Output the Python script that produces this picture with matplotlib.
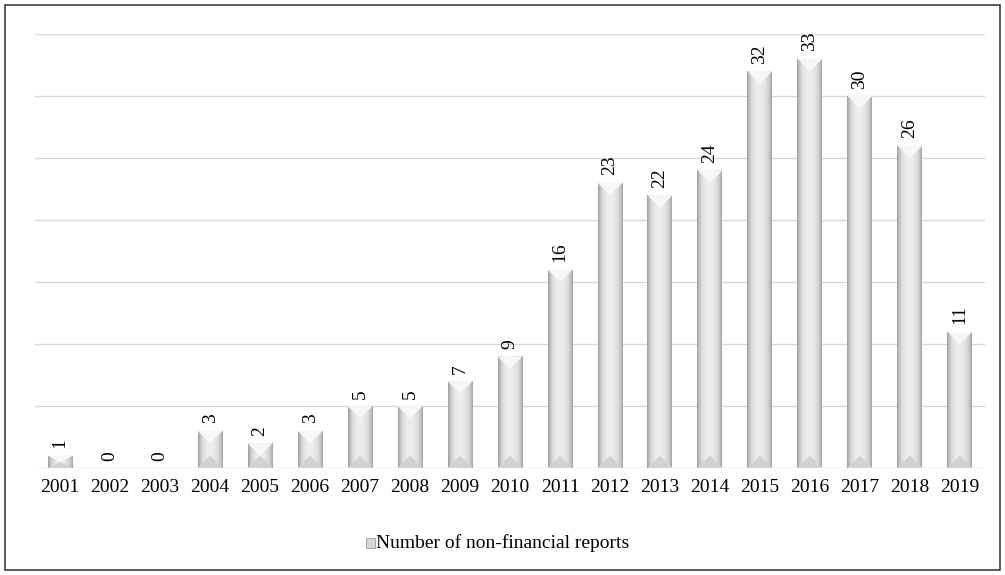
import numpy as np
import matplotlib.pyplot as plt
from matplotlib.patches import Polygon, Rectangle

years = ['2001', '2002', '2003', '2004', '2005', '2006', '2007', '2008', '2009', '2010',
         '2011', '2012', '2013', '2014', '2015', '2016', '2017', '2018', '2019']
reports = [1, 0, 0, 3, 2, 3, 5, 5, 7, 9, 16, 23, 22, 24, 32, 33, 30, 26, 11]

plt.rcParams['font.family'] = ['Liberation Serif', 'DejaVu Serif']

fig = plt.figure(figsize=(10.05, 5.75), dpi=100)
ax = fig.add_axes([0.035, 0.186, 0.945, 0.755])

x = np.arange(len(years))
w = 0.5
ax.set_xlim(-0.5, len(years) - 0.5)
ax.set_ylim(0, 35)

for y in range(0, 36, 5):
    ax.axhline(y, color='#d9d9d9', lw=1, zorder=0)

# horizontal gradient for the bevelled bars
grad = np.array([0.62, 0.78, 0.87, 0.91, 0.93, 0.93, 0.92, 0.90, 0.86, 0.79, 0.64])
grad = np.interp(np.linspace(0, 10, 64), np.arange(11), grad)[None, :]

# bevel depth in data units (about half a bar width on screen)
px_per_unit = fig.get_figheight() * 100 * 0.755 / 35
d = (w / 2) * (fig.get_figwidth() * 100 * 0.945 / len(years)) / px_per_unit

for xi, v in zip(x, reports):
    if v > 0:
        x0, x1 = xi - w / 2, xi + w / 2
        im = ax.imshow(grad, cmap='gray', vmin=0, vmax=1, aspect='auto',
                       extent=(x0, x1, 0, v), zorder=2, interpolation='bilinear')
        im.set_clip_path(Rectangle((x0, 0), w, v, transform=ax.transData))
        dd = min(d, v / 2)
        ax.add_patch(Polygon([(x0, v), (x1, v), (xi, v - dd)], closed=True,
                             facecolor='#f7f7f7', edgecolor='none', zorder=3))
        ax.add_patch(Polygon([(x0, 0), (x1, 0), (xi, dd)], closed=True,
                             facecolor='#d2d2d2', edgecolor='none', zorder=3))
    ax.text(xi, v + 0.6, str(v), rotation=90, ha='center', va='bottom', fontsize=14)

ax.set_xticks(x)
ax.set_xticklabels(years, fontsize=14)
ax.tick_params(axis='x', length=0, pad=8)
ax.set_yticks([])
for s in ax.spines.values():
    s.set_visible(False)

# legend
lx, ly = 0.364, 0.056
fig.patches.append(Rectangle((lx, ly - 0.009), 0.009, 0.017, transform=fig.transFigure,
                             facecolor='#d6d6d6', edgecolor='#9a9a9a', lw=0.6))
fig.text(lx + 0.0105, ly, 'Number of non-financial reports', fontsize=14, va='center')

fig.patches.append(Rectangle((0.005, 0.008), 0.99, 0.984, transform=fig.transFigure,
                             fill=False, edgecolor='#404040', lw=1.2))

fig.savefig('out.png', dpi=100)
